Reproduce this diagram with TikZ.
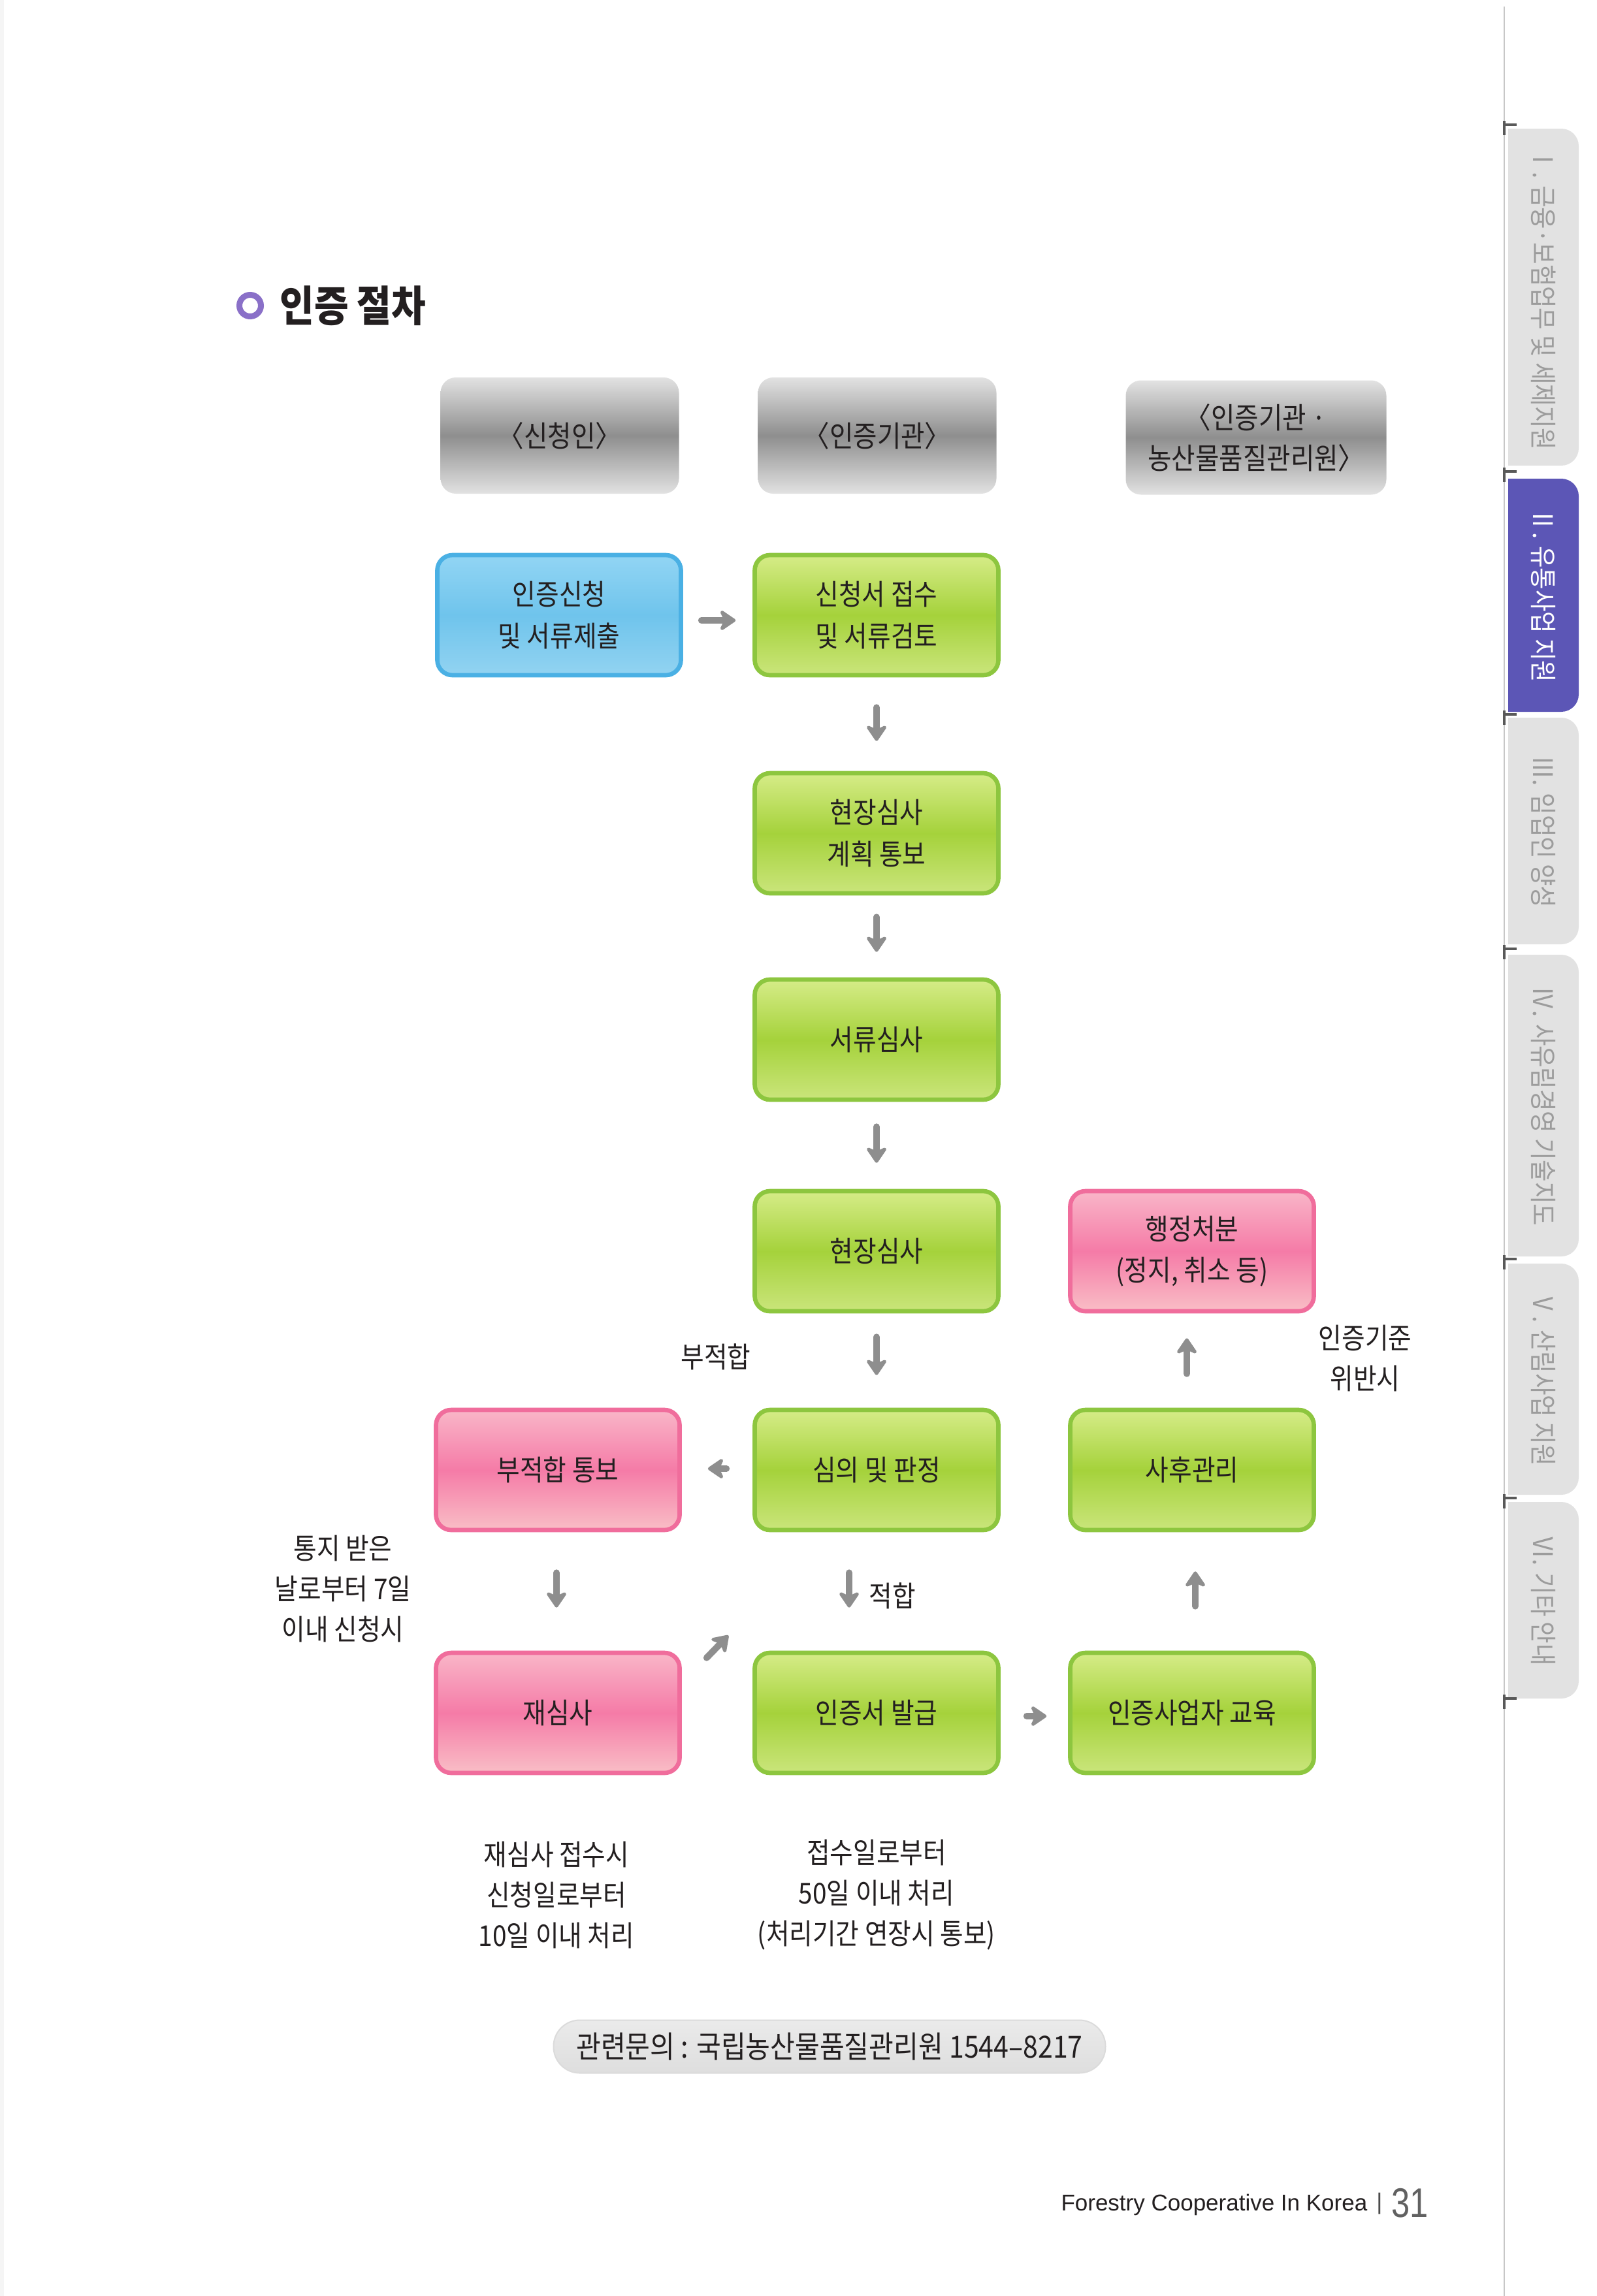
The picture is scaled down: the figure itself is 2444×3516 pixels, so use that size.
\documentclass[tikz,border=0pt]{standalone}
\usepackage{fontspec}
\setmainfont{Noto Sans CJK KR}[FakeStretch=0.88]
\newfontfamily\latinfont{Liberation Sans}
\newfontfamily\numfont{Liberation Sans}[FakeStretch=0.8]
\usetikzlibrary{arrows.meta,calc}
\definecolor{txt}{HTML}{231F20}
\definecolor{grnBd}{HTML}{8DC63F}
\definecolor{grnTp}{HTML}{D6EC88}
\definecolor{grnMd}{HTML}{A5D23B}
\definecolor{grnBt}{HTML}{CAE57B}
\definecolor{bluBd}{HTML}{4AB0E4}
\definecolor{bluTp}{HTML}{92D5F4}
\definecolor{bluMd}{HTML}{6FC4EC}
\definecolor{bluBt}{HTML}{92D3F1}
\definecolor{pnkBd}{HTML}{F06D9C}
\definecolor{pnkTp}{HTML}{F9B6C8}
\definecolor{pnkMd}{HTML}{F57BA7}
\definecolor{pnkBt}{HTML}{F9BEC6}
\definecolor{gryTp}{HTML}{E2E2E2}
\definecolor{gryMd}{HTML}{8E8E8E}
\definecolor{arrC}{HTML}{8E8E8E}
\definecolor{ringC}{HTML}{8A70C8}
\definecolor{tabG}{HTML}{E2E2E2}
\definecolor{tabT}{HTML}{9C9C9C}
\definecolor{tabP}{HTML}{5C56B6}
\tikzset{
  boxbase/.style={rounded corners=7pt, minimum width=111.9pt, minimum height=55.2pt,
    line width=2pt, align=center, inner sep=0pt, text=txt,
    font=\fontsize{13.2}{19}\selectfont},
  greenbox/.style={boxbase, draw=grnBd, top color=grnTp, bottom color=grnBt, middle color=grnMd},
  bluebox/.style={boxbase, draw=bluBd, top color=bluTp, bottom color=bluBt, middle color=bluMd},
  pinkbox/.style={boxbase, draw=pnkBd, top color=pnkTp, bottom color=pnkBt, middle color=pnkMd},
  headbox/.style={rounded corners=7pt, minimum width=109.5pt, minimum height=53.4pt,
    align=center, inner sep=0pt, text=txt, font=\fontsize{13.5}{18.6}\selectfont,
    top color=gryTp, bottom color=gryTp, middle color=gryMd},
  arr/.style={draw=arrC, line width=3pt, line cap=round,
    -{Stealth[length=8.5pt,width=11.5pt,inset=2.6pt,round]}},
  lbl/.style={align=center, inner sep=0pt, text=txt, font=\fontsize{13.2}{18.6}\selectfont},
  tabtxt/.style={rotate=-90, inner sep=0pt, text=tabT, font=\fontsize{12.4}{12.4}\selectfont},
}
\begin{document}
\begin{tikzpicture}[x=0.3pt,y=-0.3pt]
\useasboundingbox (0,0) rectangle (2444,3516);
\fill[white] (0,0) rectangle (2444,3516);
\fill[black!4] (0,0) rectangle (6,3516);

% right side strip
\draw[black!22, line width=0.6pt] (2303,10) -- (2303,3516);
\fill[tabG] (2309,197) [rounded corners=8pt] -- (2417,197) -- (2417,713) [sharp corners] -- (2309,713) -- cycle;
\fill[tabP] (2309,733) [rounded corners=8pt] -- (2417,733) -- (2417,1090) [sharp corners] -- (2309,1090) -- cycle;
\fill[tabG] (2309,1099) [rounded corners=8pt] -- (2417,1099) -- (2417,1446) [sharp corners] -- (2309,1446) -- cycle;
\fill[tabG] (2309,1462) [rounded corners=8pt] -- (2417,1462) -- (2417,1924) [sharp corners] -- (2309,1924) -- cycle;
\fill[tabG] (2309,1935) [rounded corners=8pt] -- (2417,1935) -- (2417,2289) [sharp corners] -- (2309,2289) -- cycle;
\fill[tabG] (2309,2300) [rounded corners=8pt] -- (2417,2300) -- (2417,2601) [sharp corners] -- (2309,2601) -- cycle;
\foreach \ty in {191,722,1094,1453,1928,2294,2601}{
  \draw[black!65, line width=1.3pt] (2303,\ty) -- (2322,\ty);
  \draw[black!65, line width=1.3pt] (2303,\ty-6) -- (2303,\ty+16);
}
\node[tabtxt] (tab1) at (2363,458) {Ⅰ. 금융·보험업무 및 세제지원};
\node[tabtxt, text=white] (tab2) at (2363,912) {Ⅱ. 유통사업 지원};
\node[tabtxt] (tab3) at (2363,1274) {Ⅲ. 임업인 양성};
\node[tabtxt] (tab4) at (2363,1694) {Ⅳ. 사유림경영 기술지도};
\node[tabtxt] (tab5) at (2363,2112) {Ⅴ. 산림사업 지원};
\node[tabtxt] (tab6) at (2363,2451) {Ⅵ. 기타 안내};

% title
\node[circle, draw=ringC, line width=2.7pt, minimum size=9.9pt, inner sep=0pt] (bullet) at (383,468) {};
\node[anchor=west, inner sep=0pt, text=txt, font=\fontsize{19.5}{19.5}\selectfont\bfseries] (title) at (428,468) {인증 절차};

% headers
\node[headbox] (hdA) at (857,667) {〈신청인〉};
\node[headbox] (hdB) at (1343,667) {〈인증기관〉};
\node[headbox, minimum width=119.7pt, minimum height=52.5pt] (hdC) at (1923,670) {〈인증기관 ·\\농산물품질관리원〉};

% boxes
\node[bluebox]  (apply)  at (856,942)  {인증신청\\및 서류제출};
\node[greenbox] (recv)   at (1342,942) {신청서 접수\\및 서류검토};
\node[greenbox] (plan)   at (1342,1276) {현장심사\\계획 통보};
\node[greenbox] (docrev) at (1342,1592) {서류심사};
\node[greenbox] (site)   at (1342,1916) {현장심사};
\node[pinkbox]  (admin)  at (1825,1916) {행정처분\\(정지, 취소 등)};
\node[pinkbox]  (unfit)  at (854,2251) {부적합 통보};
\node[greenbox] (judge)  at (1342,2251) {심의 및 판정};
\node[greenbox] (after)  at (1825,2251) {사후관리};
\node[pinkbox]  (rerev)  at (854,2623) {재심사};
\node[greenbox] (issue)  at (1342,2623) {인증서 발급};
\node[greenbox] (edu)    at (1825,2623) {인증사업자 교육};

% arrows
\draw[arr] ($(apply.east)+(28,8)$) -- ($(recv.west)+(-26,8)$);
\draw[arr] ($(recv.south)+(0,46)$) -- ($(plan.north)+(0,-46)$);
\draw[arr] ($(plan.south)+(0,33)$) -- ($(docrev.north)+(0,-39)$);
\draw[arr] ($(docrev.south)+(0,38)$) -- ($(site.north)+(0,-40)$);
\draw[arr] ($(site.south)+(0,36)$) -- ($(judge.north)+(0,-50)$);
\draw[arr] ($(judge.west)+(-40,-2)$) -- ($(unfit.east)+(40,-2)$);
\draw[arr] ($(judge.south)+(-42,62)$) -- ($(issue.north)+(-42,-66)$);
\draw[arr] ($(unfit.south)+(-2,62)$) -- ($(rerev.north)+(-2,-66)$);
\draw[arr] ($(rerev.north east)+(38,11)$) -- ($(judge.south west)+(-37,158)$);
\draw[arr] ($(issue.east)+(40,5)$) -- ($(edu.west)+(-33,5)$);
\draw[arr] ($(edu.north)+(5,-68)$) -- ($(after.south)+(5,60)$);
\draw[arr] ($(after.north)+(-8,-52)$) -- ($(admin.south)+(-8,38)$);

% labels
\node[lbl] (lbUnfit) at (1096,2078) {부적합};
\node[lbl] (lbFit) at (1366,2444) {적합};
\node[lbl] (lbViol) at (2090,2080) {인증기준\\위반시};
\node[lbl] (lbNotice) at (525,2433) {통지 받은\\날로부터 7일\\이내 신청시};
\node[lbl] (lbRe) at (852,2902) {재심사 접수시\\신청일로부터\\10일 이내 처리};
\node[lbl] (lbProc) at (1342,2902) {접수일로부터\\50일 이내 처리\\(처리기간 연장시 통보)};

% contact pill
\node[rounded corners=12pt, minimum width=253.5pt, minimum height=24.3pt, inner sep=0pt,
  draw=black!14, line width=0.6pt, top color=black!8, bottom color=black!13, text=txt,
  font=\fontsize{14}{14}\selectfont] (pill) at (1270,3134) {관련문의 : 국립농산물품질관리원 1544–8217};

% footer
\node[anchor=east, inner sep=0pt, text=txt, font=\latinfont\fontsize{10.5}{10.5}\selectfont] (foot) at (2094,3376) {Forestry Cooperative In Korea};
\node[inner sep=0pt, text=black!70, font=\latinfont\fontsize{10.5}{10.5}\selectfont] (footbar) at (2112,3374) {|};
\node[anchor=west, inner sep=0pt, text=black!62, font=\numfont\fontsize{19}{19}\selectfont] (pagenum) at (2130,3374) {31};
\end{tikzpicture}
\end{document}
